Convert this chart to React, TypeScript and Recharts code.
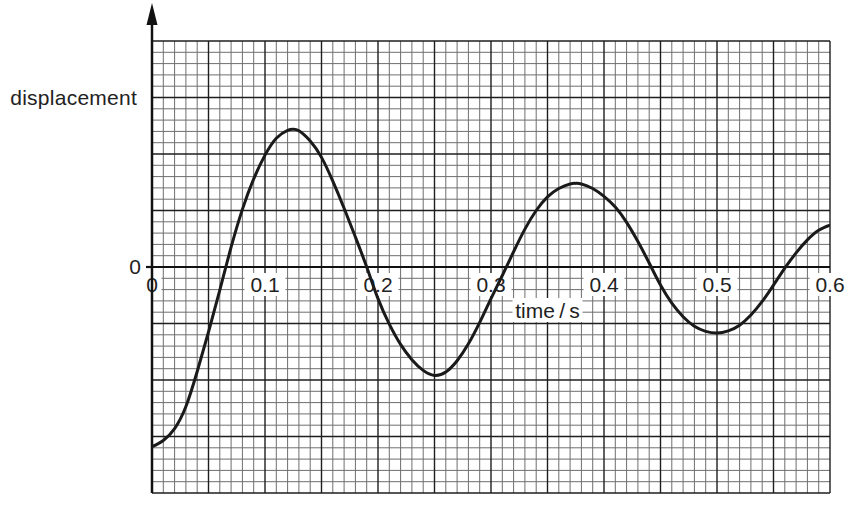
import React from 'react';
import { LineChart, Line, XAxis, YAxis, ReferenceLine, ReferenceDot } from 'recharts';

// time / s
const times = [
  0, 0.01, 0.02, 0.03, 0.04, 0.05, 0.06, 0.07, 0.08, 0.09,
  0.1, 0.11, 0.12, 0.125, 0.13, 0.14, 0.15, 0.16, 0.17, 0.18, 0.19,
  0.2, 0.21, 0.22, 0.23, 0.24, 0.25, 0.26, 0.27, 0.28, 0.29,
  0.3, 0.31, 0.32, 0.33, 0.34, 0.35, 0.36, 0.37, 0.375, 0.38, 0.39,
  0.4, 0.41, 0.42, 0.43, 0.44, 0.45, 0.46, 0.47, 0.48, 0.49,
  0.5, 0.51, 0.52, 0.53, 0.54, 0.55, 0.56, 0.57, 0.58, 0.59, 0.6,
];
// displacement (grid-square units, 1 unit = one large square)
const displacement = [
  -3.18, -3.07, -2.86, -2.47, -1.85, -1.15, -0.41, 0.35, 1.02, 1.56,
  1.98, 2.28, 2.42, 2.44, 2.41, 2.23, 1.94, 1.52, 1.04, 0.53, 0.0,
  -0.56, -1.01, -1.37, -1.64, -1.83, -1.92, -1.86, -1.66, -1.36, -0.98,
  -0.56, -0.15, 0.27, 0.67, 1.0, 1.24, 1.39, 1.47, 1.48, 1.47, 1.39,
  1.25, 1.06, 0.79, 0.45, 0.07, -0.32, -0.64, -0.88, -1.05, -1.14,
  -1.17, -1.13, -1.03, -0.85, -0.61, -0.32, -0.02, 0.25, 0.48, 0.65, 0.74,
];

const xTickValues = [0, 0.1, 0.2, 0.3, 0.4, 0.5, 0.6];
const xTickLabels = ['0', '0.1', '0.2', '0.3', '0.4', '0.5', '0.6'];
const yZeroLabel = '0';
const yAxisTitle = 'displacement';
const xAxisTitle = 'time\u2009/\u2009s';

const data = times.map((t, i) => ({ t, v: displacement[i] }));

// graph-paper lines: every 0.01 s horizontally, every 0.2 units vertically
const gridX = Array.from({ length: 61 }, (_, k) => ({ v: k / 100, major: k % 5 === 0 }));
const gridY = Array.from({ length: 41 }, (_, j) => ({ v: (j - 20) / 5, major: (j - 20) % 5 === 0 }));

const FONT = '"Liberation Sans", Arial, Helvetica, sans-serif';
const MINOR = '#6e6e6e';
const MAJOR = '#1e1e1e';

const tickShape = (label: string) => (props: any) => {
  const { cx, cy } = props;
  const w = label.length * 11 + 8;
  return (
    <g>
      <rect x={cx - w / 2} y={cy + 6} width={w} height={23} fill="#ffffff" />
      <text x={cx} y={cy + 25} textAnchor="middle" fontFamily={FONT} fontSize={21} fill="#222">
        {label}
      </text>
    </g>
  );
};

const yZeroShape = (props: any) => {
  const { cx, cy } = props;
  return (
    <g>
      <line x1={cx - 6} y1={cy} x2={cx} y2={cy} stroke="#111" strokeWidth={2.2} />
      <text x={cx - 11} y={cy + 7} textAnchor="end" fontFamily={FONT} fontSize={21} fill="#222">
        {yZeroLabel}
      </text>
    </g>
  );
};

const yTitleShape = (props: any) => {
  const { cx, cy } = props;
  return (
    <text x={cx - 15} y={cy + 7} textAnchor="end" fontFamily={FONT} fontSize={21} letterSpacing={0.25} fill="#222">
      {yAxisTitle}
    </text>
  );
};

const xTitleShape = (props: any) => {
  const { cx, cy } = props;
  return (
    <g>
      <rect x={cx - 35} y={cy + 31} width={70} height={24} fill="#ffffff" />
      <text x={cx} y={cy + 51} textAnchor="middle" fontFamily={FONT} fontSize={21} fill="#222">
        {xAxisTitle}
      </text>
    </g>
  );
};

const arrowShape = (props: any) => {
  const { cx, cy } = props;
  return (
    <g>
      <line x1={cx} y1={cy} x2={cx} y2={cy - 20} stroke="#111" strokeWidth={2.5} />
      <polygon points={`${cx},${cy - 38} ${cx - 5.5},${cy - 16} ${cx + 5.5},${cy - 16}`} fill="#111" />
    </g>
  );
};

export default function App() {
  return (
    <div style={{ position: 'absolute', left: 0, top: 0, width: 846, height: 506, background: '#fff' }}>
      <LineChart width={846} height={506} data={data} margin={{ top: 41, right: 16, bottom: 13, left: 152 }}>
        <XAxis dataKey="t" type="number" domain={[0, 0.6]} hide allowDataOverflow />
        <YAxis type="number" domain={[-4, 4]} hide allowDataOverflow />
        {gridX.filter((g) => !g.major).map((g) => (
          <ReferenceLine key={`mx${g.v}`} x={g.v} stroke={MINOR} strokeWidth={1} ifOverflow="visible" zIndex={100} />
        ))}
        {gridY.filter((g) => !g.major).map((g) => (
          <ReferenceLine key={`my${g.v}`} y={g.v} stroke={MINOR} strokeWidth={1} ifOverflow="visible" zIndex={100} />
        ))}
        {gridX.filter((g) => g.major).map((g) => (
          <ReferenceLine key={`Mx${g.v}`} x={g.v} stroke={MAJOR} strokeWidth={1.4} ifOverflow="visible" zIndex={110} />
        ))}
        {gridY.filter((g) => g.major).map((g) => (
          <ReferenceLine key={`My${g.v}`} y={g.v} stroke={MAJOR} strokeWidth={1.4} ifOverflow="visible" zIndex={110} />
        ))}
        {xTickValues.map((t, i) => (
          <ReferenceDot key={`tick${t}`} x={t} y={0} r={0} ifOverflow="visible" shape={tickShape(xTickLabels[i])} zIndex={200} />
        ))}
        <ReferenceDot x={0.35} y={0} r={0} ifOverflow="visible" shape={xTitleShape} zIndex={200} />
        <ReferenceDot x={0} y={3} r={0} ifOverflow="visible" shape={yTitleShape} zIndex={200} />
        <ReferenceLine y={0} stroke="#111" strokeWidth={2.2} ifOverflow="visible" zIndex={300} />
        <ReferenceLine x={0} stroke="#111" strokeWidth={2.5} ifOverflow="visible" zIndex={300} />
        <ReferenceDot x={0} y={0} r={0} ifOverflow="visible" shape={yZeroShape} zIndex={300} />
        <ReferenceDot x={0} y={4} r={0} ifOverflow="visible" shape={arrowShape} zIndex={300} />
        <Line
          dataKey="v"
          type="natural"
          stroke="#1a1a1a"
          strokeWidth={3}
          dot={false}
          activeDot={false}
          isAnimationActive={false}
          zIndex={500}
        />
      </LineChart>
    </div>
  );
}
